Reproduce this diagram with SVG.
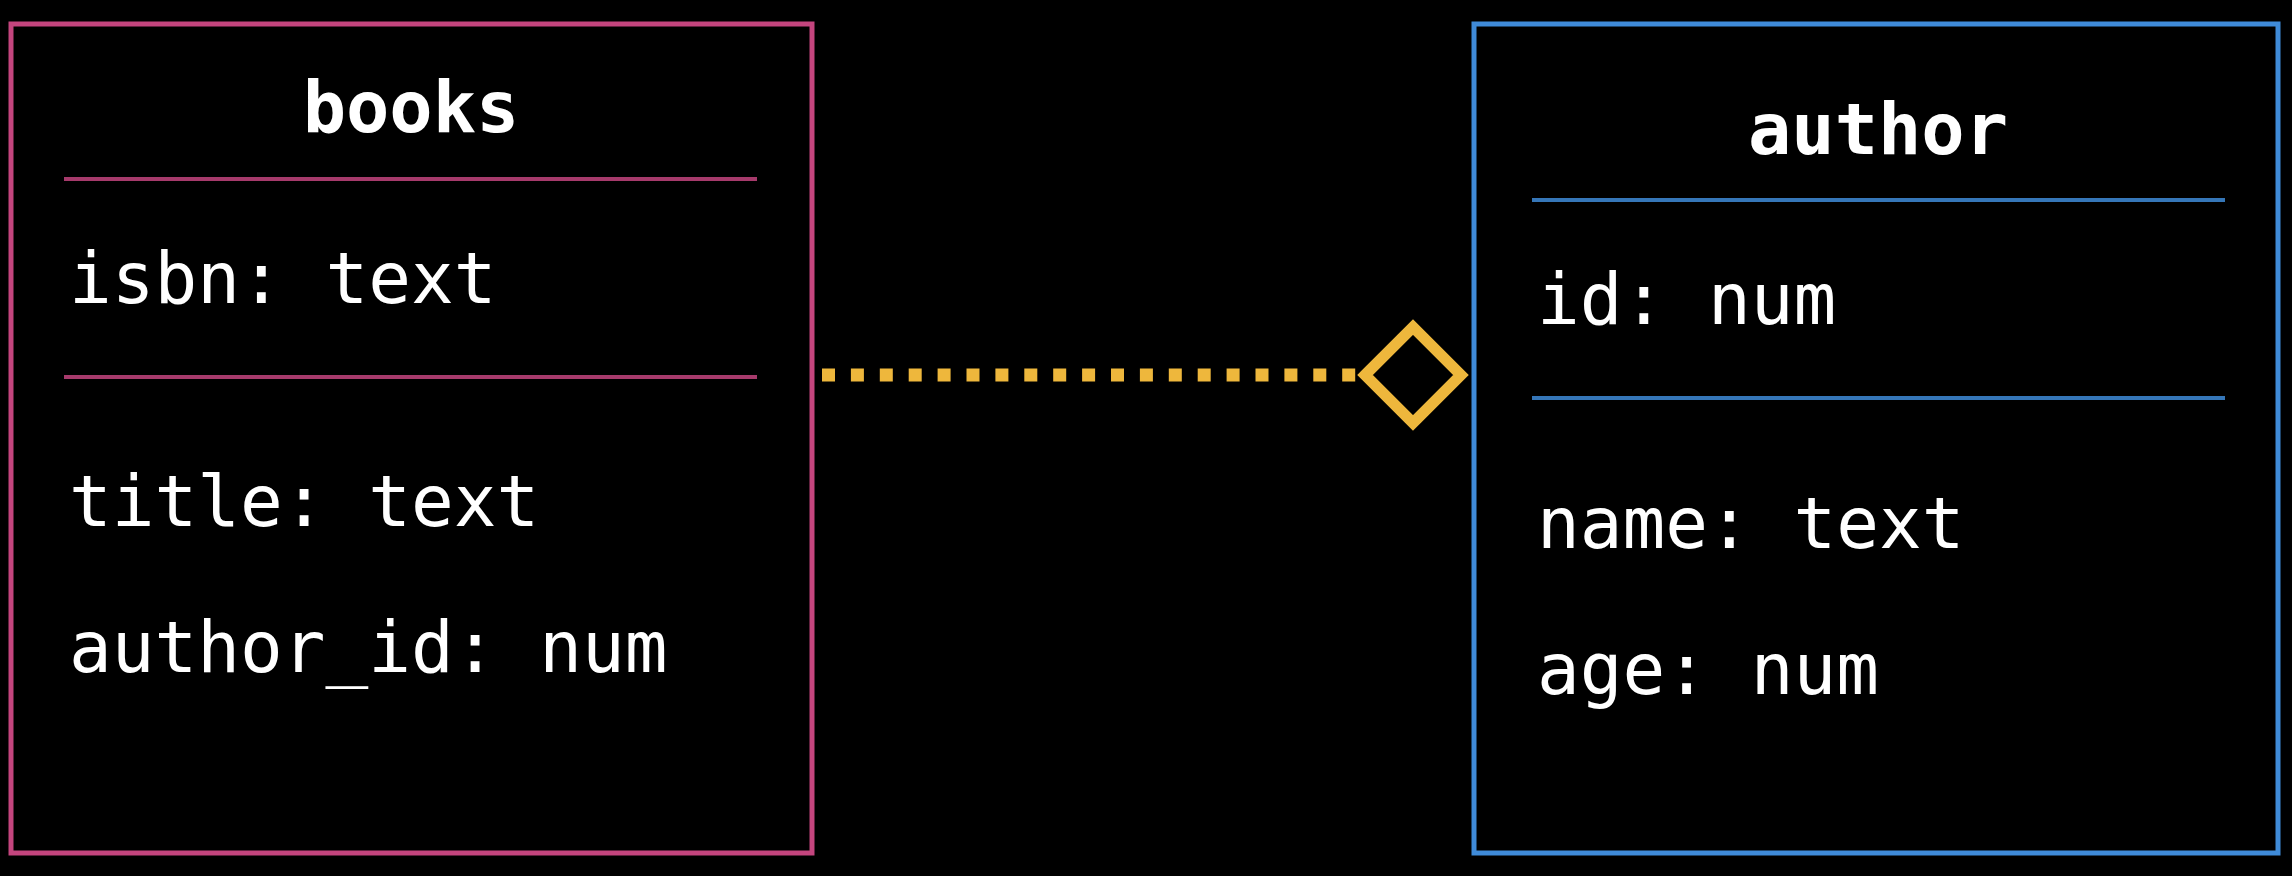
<svg xmlns="http://www.w3.org/2000/svg" width="2292" height="876" viewBox="0 0 2292 876">
<style>
.bg{fill:#000}
.box{fill:#000;stroke-width:5}
.pink{stroke:#c4457e}
.blue{stroke:#3f8bd9}
.sep{stroke-width:4;opacity:0.85}
.title{font-family:"DejaVu Sans Mono","Liberation Mono",monospace;font-size:72px;font-weight:bold;fill:#fff;text-anchor:middle}
.attr{font-family:"DejaVu Sans Mono","Liberation Mono",monospace;font-size:71px;fill:#fff}
.conn{stroke:#eeb73c;fill:none}
</style>
<rect class="bg" x="0" y="0" width="2292" height="876"/>
<g id="books">
<rect class="box pink" x="11" y="24" width="801" height="829"/>
<text class="title" x="411" y="132">books</text>
<line class="sep pink" x1="64" y1="179" x2="757" y2="179"/>
<text class="attr" x="69" y="303">isbn: text</text>
<line class="sep pink" x1="64" y1="377" x2="757" y2="377"/>
<text class="attr" x="69" y="526">title: text</text>
<text class="attr" x="69" y="672">author_id: num</text>
</g>
<g id="author">
<rect class="box blue" x="1474" y="24" width="804" height="829"/>
<text class="title" x="1878" y="154">author</text>
<line class="sep blue" x1="1532" y1="200" x2="2225" y2="200"/>
<text class="attr" x="1537" y="324">id: num</text>
<line class="sep blue" x1="1532" y1="398" x2="2225" y2="398"/>
<text class="attr" x="1537" y="548">name: text</text>
<text class="attr" x="1537" y="694">age: num</text>
</g>
<g id="connectors">
<line class="conn" x1="822" y1="375" x2="1356" y2="375" stroke-width="13" stroke-dasharray="13 15.9"/>
<path class="conn" d="M1365 375 L1413 327 L1461 375 L1413 423 Z" stroke-width="11" stroke-linejoin="miter"/>
</g>
</svg>
